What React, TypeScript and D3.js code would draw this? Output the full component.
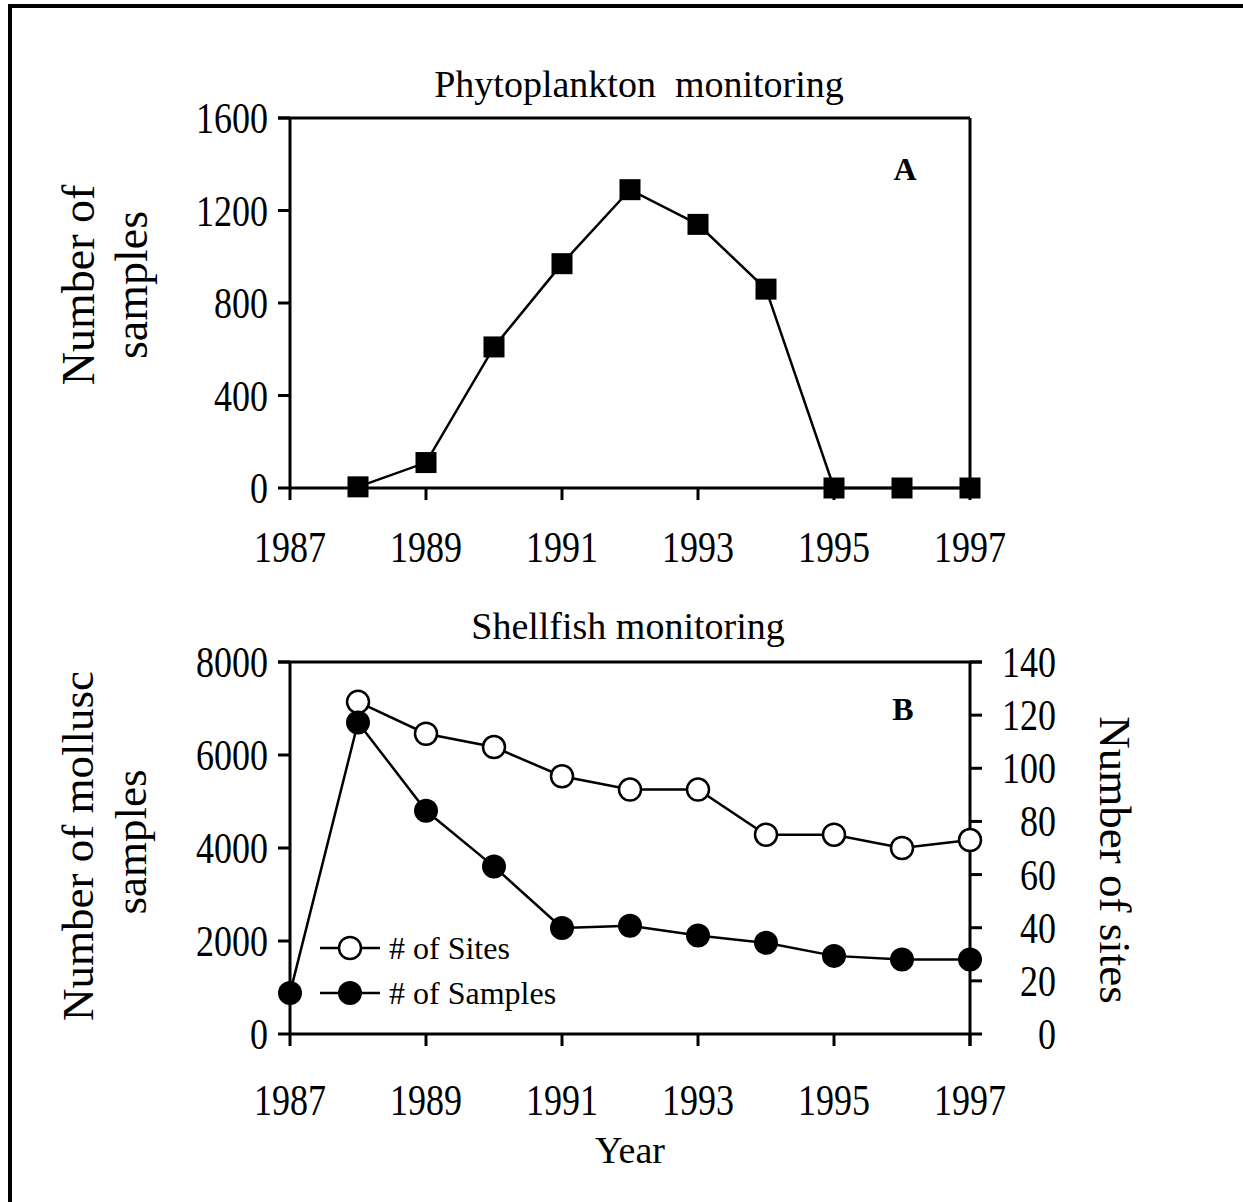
import * as d3 from 'd3';
import React from 'react';

// panel A: phytoplankton samples per year
const phytoYears = [1988, 1989, 1990, 1991, 1992, 1993, 1994, 1995, 1996, 1997];
const phytoSamples = [5, 110, 610, 970, 1290, 1140, 860, 0, 0, 0];

// panel B: shellfish monitoring
const molluscYears = [1987, 1988, 1989, 1990, 1991, 1992, 1993, 1994, 1995, 1996, 1997];
const molluscSamples = [880, 6700, 4800, 3600, 2280, 2330, 2120, 1960, 1680, 1600, 1600];
const siteYears = [1988, 1989, 1990, 1991, 1992, 1993, 1994, 1995, 1996, 1997];
const siteCounts = [125, 113, 108, 97, 92, 92, 75, 75, 70, 73];

const yearTicks = [1987, 1989, 1991, 1993, 1995, 1997];
const phytoTicks = [0, 400, 800, 1200, 1600];
const molluscTicks = [0, 2000, 4000, 6000, 8000];
const siteTicks = [0, 20, 40, 60, 80, 100, 120, 140];

const font = "'Liberation Serif', 'Times New Roman', serif";

// tick digits in the scan are taller than plain Times, so stretch them a bit
const Tick = ({ x, y, anchor, children }: any) => (
  <text transform={`translate(${x},${y}) scale(1,1.25)`} textAnchor={anchor} fontSize={36}>{children}</text>
);

const App = () => {
  const left = 290, right = 970;
  const x = d3.scaleLinear().domain([1987, 1997]).range([left, right]);
  const yA = d3.scaleLinear().domain([0, 1600]).range([488, 118]);
  const yB = d3.scaleLinear().domain([0, 8000]).range([1034, 662]);
  const yS = d3.scaleLinear().domain([0, 140]).range([1034, 662]);

  const lineA = d3.line<number>().x((d, i) => x(phytoYears[i])).y(d => yA(d));
  const lineB = d3.line<number>().x((d, i) => x(molluscYears[i])).y(d => yB(d));
  const lineS = d3.line<number>().x((d, i) => x(siteYears[i])).y(d => yS(d));

  const xAxis = (y0: number, labelY: number) => (
    <g>
      <line x1={left} x2={right} y1={y0} y2={y0} stroke="#000" strokeWidth={3} />
      {yearTicks.map(t => (
        <g key={t}>
          <line x1={x(t)} x2={x(t)} y1={y0} y2={y0 + 12} stroke="#000" strokeWidth={3} />
          <Tick x={x(t)} y={labelY} anchor="middle">{t}</Tick>
        </g>
      ))}
    </g>
  );

  return (
    <svg width={1243} height={1202} style={{ position: 'absolute', left: 0, top: 0, background: '#fff' }}
      fontFamily={font}>
      <rect width={1243} height={1202} fill="#fff" />
      {/* page frame */}
      <line x1={8} x2={1243} y1={6} y2={6} stroke="#000" strokeWidth={4} />
      <line x1={10} x2={10} y1={5} y2={1202} stroke="#000" strokeWidth={4} />

      {/* ---- panel A ---- */}
      <text x={639} y={97} textAnchor="middle" fontSize={38} style={{ whiteSpace: 'pre' }}>Phytoplankton  monitoring</text>
      <line x1={278} x2={right} y1={yA(1600)} y2={yA(1600)} stroke="#000" strokeWidth={3} />
      <line x1={right} x2={right} y1={yA(1600)} y2={yA(0)} stroke="#000" strokeWidth={3} />
      <line x1={left} x2={left} y1={yA(1600)} y2={yA(0)} stroke="#000" strokeWidth={3} />
      {phytoTicks.map(t => (
        <g key={t}>
          <line x1={278} x2={left} y1={yA(t)} y2={yA(t)} stroke="#000" strokeWidth={3} />
          <Tick x={268} y={yA(t) + 15} anchor="end">{t}</Tick>
        </g>
      ))}
      {xAxis(yA(0), 562)}
      <text transform={`translate(94, 285) rotate(-90)`} textAnchor="middle" fontSize={46}>Number of</text>
      <text transform={`translate(147, 285) rotate(-90)`} textAnchor="middle" fontSize={46}>samples</text>
      <text x={905} y={180} textAnchor="middle" fontSize={32} fontWeight="bold">A</text>
      <path d={lineA(phytoSamples) || ''} fill="none" stroke="#000" strokeWidth={2.5} />
      {phytoSamples.map((v, i) => (
        <rect key={i} x={x(phytoYears[i]) - 10.5} y={yA(v) - 10.5} width={21} height={21} fill="#000" />
      ))}

      {/* ---- panel B ---- */}
      <text x={628} y={639} textAnchor="middle" fontSize={38}>Shellfish monitoring</text>
      <line x1={278} x2={982} y1={yB(8000)} y2={yB(8000)} stroke="#000" strokeWidth={3} />
      <line x1={left} x2={left} y1={yB(8000)} y2={yB(0)} stroke="#000" strokeWidth={3} />
      <line x1={right} x2={right} y1={yB(8000)} y2={yB(0) + 12} stroke="#000" strokeWidth={3} />
      {molluscTicks.map(t => (
        <g key={t}>
          <line x1={278} x2={left} y1={yB(t)} y2={yB(t)} stroke="#000" strokeWidth={3} />
          <Tick x={268} y={yB(t) + 15} anchor="end">{t}</Tick>
        </g>
      ))}
      {siteTicks.map(t => (
        <g key={t}>
          <line x1={right} x2={982} y1={yS(t)} y2={yS(t)} stroke="#000" strokeWidth={3} />
          <Tick x={1056} y={yS(t) + 15} anchor="end">{t}</Tick>
        </g>
      ))}
      {xAxis(yB(0), 1115)}
      <text x={630} y={1163} textAnchor="middle" fontSize={38}>Year</text>
      <text transform={`translate(93, 846) rotate(-90)`} textAnchor="middle" fontSize={45}>Number of mollusc</text>
      <text transform={`translate(146, 842) rotate(-90)`} textAnchor="middle" fontSize={45}>samples</text>
      <text transform={`translate(1100, 860) rotate(90)`} textAnchor="middle" fontSize={45}>Number of sites</text>
      <text x={903} y={720} textAnchor="middle" fontSize={32} fontWeight="bold">B</text>

      <path d={lineS(siteCounts) || ''} fill="none" stroke="#000" strokeWidth={2.5} />
      <path d={lineB(molluscSamples) || ''} fill="none" stroke="#000" strokeWidth={2.5} />
      {siteCounts.map((v, i) => (
        <circle key={'s' + i} cx={x(siteYears[i])} cy={yS(v)} r={11} fill="#fff" stroke="#000" strokeWidth={2.5} />
      ))}
      {molluscSamples.map((v, i) => (
        <circle key={'m' + i} cx={x(molluscYears[i])} cy={yB(v)} r={12} fill="#000" />
      ))}

      {/* legend */}
      <line x1={320} x2={380} y1={948} y2={948} stroke="#000" strokeWidth={2.5} />
      <circle cx={350} cy={948} r={11} fill="#fff" stroke="#000" strokeWidth={2.5} />
      <text x={389} y={959} fontSize={32}># of Sites</text>
      <line x1={320} x2={380} y1={993} y2={993} stroke="#000" strokeWidth={2.5} />
      <circle cx={350} cy={993} r={12} fill="#000" />
      <text x={389} y={1004} fontSize={32}># of Samples</text>
    </svg>
  );
};

export default App;
